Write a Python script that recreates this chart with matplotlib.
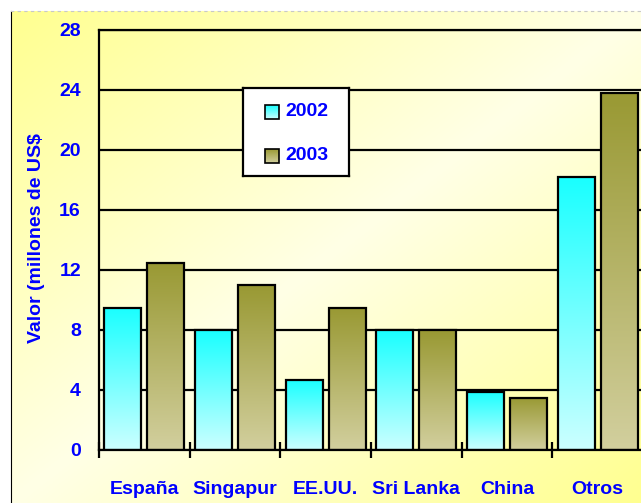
import numpy as np
import matplotlib
matplotlib.use('Agg')
import matplotlib.pyplot as plt
from matplotlib.colors import LinearSegmentedColormap
from matplotlib.patches import Rectangle

# data
paises = ['España', 'Singapur', 'EE.UU.', 'Sri Lanka', 'China', 'Otros']
valor_2002 = [9.5, 8.0, 4.7, 8.0, 3.9, 18.2]
valor_2003 = [12.5, 11.0, 9.5, 8.0, 3.5, 23.8]
years = ['2002', '2003']
y_ticks = [0, 4, 8, 12, 16, 20, 24, 28]

BLUE = '#0000ff'
FS = 14
plt.rcParams['font.family'] = ['Liberation Sans', 'DejaVu Sans']
plt.rcParams['font.weight'] = 'bold'

# vertical gradients (bottom -> top)
cmap_2002 = LinearSegmentedColormap.from_list('c02', ['#ccffff', '#19ffff'])
cmap_2003 = LinearSegmentedColormap.from_list('c03', ['#d2cf9e', '#999933'])

W, H = 641, 503
fig = plt.figure(figsize=(W / 100, H / 100), dpi=100)
fig.patch.set_facecolor('white')

# yellow chart-area background with diagonal gradient
bg = fig.add_axes([11 / W, 0, (W - 11) / W, (H - 11) / H], zorder=0)
xx, vv = np.meshgrid(np.linspace(0, 1, 200), np.linspace(0, 1, 200))
t = np.abs(xx + vv - 1)
bg_cmap = LinearSegmentedColormap.from_list('bg', ['#ffffe6', '#ffff8c'])
bg.imshow(t, cmap=bg_cmap, aspect='auto', extent=[0, 1, 0, 1],
          origin='upper', vmin=0, vmax=1.05)
bg.set_xlim(0, 1)
bg.set_ylim(0, 1)
bg.set_xticks([])
bg.set_yticks([])
for s in ['right', 'bottom']:
    bg.spines[s].set_visible(False)
bg.spines['left'].set_color('black')
bg.spines['left'].set_linewidth(0.8)
bg.spines['top'].set_color('#c8c8c8')
bg.spines['top'].set_linestyle((0, (2, 4)))
bg.spines['top'].set_linewidth(0.8)

# main plot area
ax = fig.add_axes([99 / W, 53 / H, 544 / W, 420 / H], zorder=1)
ax.set_facecolor('none')

grad = np.linspace(0, 1, 256).reshape(-1, 1)


def gradient_bar(ax, x0, width, height, cmap):
    im = ax.imshow(grad, cmap=cmap, aspect='auto', origin='lower',
                   extent=[x0, x0 + width, 0, height], zorder=2)
    rect = Rectangle((x0, 0), width, height, facecolor='none',
                     edgecolor='black', linewidth=1.6, zorder=3)
    ax.add_patch(rect)
    im.set_clip_path(rect)


x = np.arange(len(paises))
bar_w = 0.405
offset = 0.237
for i in range(len(paises)):
    gradient_bar(ax, x[i] - offset - bar_w / 2, bar_w, valor_2002[i],
                 cmap_2002)
    gradient_bar(ax, x[i] + offset - bar_w / 2, bar_w, valor_2003[i],
                 cmap_2003)

ax.set_xlim(-0.5, len(paises) - 0.5)
ax.set_ylim(0, 28)

ax.set_yticks(y_ticks)
ax.set_yticklabels([str(v) for v in y_ticks])
ax.yaxis.grid(True, color='black', linewidth=1.6)
ax.set_axisbelow(True)
ax.tick_params(axis='y', length=0, pad=13, labelsize=FS, labelcolor=BLUE)

ax.set_xticks(x)
ax.set_xticklabels(paises)
ax.set_xticks(np.arange(len(paises) + 1) - 0.5, minor=True)
ax.tick_params(axis='x', which='major', length=0, pad=22, labelsize=FS,
               labelcolor=BLUE)
ax.tick_params(axis='x', which='minor', direction='inout', length=11,
               width=1.6, color='black')
for lbl in ax.get_xticklabels() + ax.get_yticklabels():
    lbl.set_fontweight('bold')

for s in ax.spines.values():
    s.set_linewidth(1.6)
    s.set_color('black')

fig.text(37 / W, 1 - 238 / H, 'Valor (millones de US$', rotation=90,
         ha='center', va='center', color=BLUE, fontsize=FS,
         fontweight='bold')

# legend box drawn by hand to match spacing
leg = fig.add_axes([243 / W, 1 - 176 / H, 106 / W, 88 / H], zorder=4)
leg.set_xticks([])
leg.set_yticks([])
leg.set_facecolor('white')
for s in leg.spines.values():
    s.set_linewidth(1.6)
    s.set_color('black')
for k, (yr, cm) in enumerate(zip(years, [cmap_2002, cmap_2003])):
    yc = 24 + 44 * k
    leg.imshow(grad[::-1], cmap=cm, aspect='auto',
               extent=[22, 36, yc + 7, yc - 7], zorder=2)
    leg.add_patch(Rectangle((22, yc - 7), 14, 14, facecolor='none',
                            edgecolor='black', linewidth=1.2, zorder=3))
    leg.text(42, yc, yr, ha='left', va='center', color=BLUE,
             fontsize=FS, fontweight='bold')
leg.set_xlim(0, 106)
leg.set_ylim(88, 0)

fig.savefig('out.png', dpi=100)
